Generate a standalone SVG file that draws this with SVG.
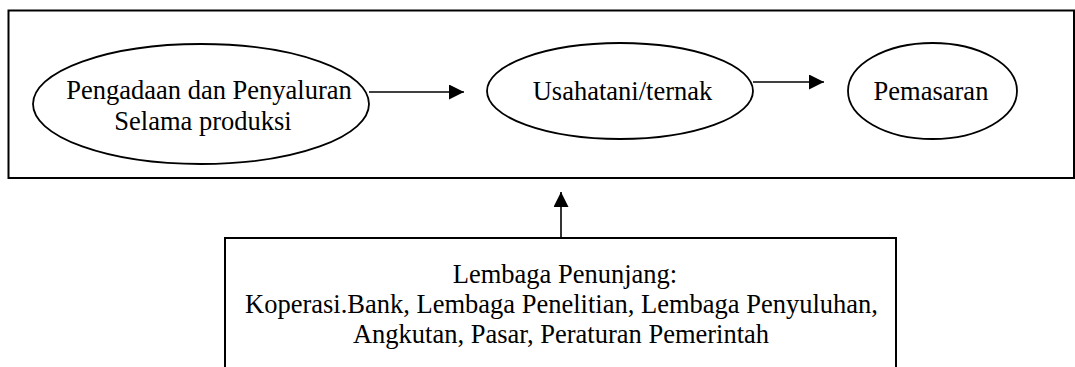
<svg xmlns="http://www.w3.org/2000/svg" width="1075" height="367" viewBox="0 0 1075 367">
<style>
.box{fill:#fff;stroke:#000;stroke-width:2}
.ell{fill:#fff;stroke:#000;stroke-width:1.8}
.lbl{font-family:"Liberation Serif","Times New Roman",serif;font-size:26.5px;fill:#000;text-anchor:middle}
.conn{stroke:#000;stroke-width:1.6;fill:none;marker-end:url(#ah)}
</style>
<defs>
<marker id="ah" markerUnits="userSpaceOnUse" markerWidth="15" markerHeight="15" refX="15" refY="7.5" orient="auto">
<path d="M0,0 L15,7.5 L0,15 z" fill="#000"/>
</marker>
</defs>
<rect width="1075" height="367" fill="#fff"/>
<g id="frame">
<rect class="box" x="8.5" y="10.5" width="1065.5" height="167.5"/>
</g>
<g id="node-pengadaan">
<ellipse class="ell" cx="201" cy="104" rx="168" ry="60"/>
<text class="lbl" x="209" y="99">Pengadaan dan Penyaluran</text>
<text class="lbl" x="203" y="129.5">Selama produksi</text>
</g>
<g id="node-usahatani">
<ellipse class="ell" cx="620" cy="91" rx="133" ry="48"/>
<text class="lbl" x="622.5" y="100">Usahatani/ternak</text>
</g>
<g id="node-pemasaran">
<ellipse class="ell" cx="932.5" cy="91" rx="84.5" ry="48"/>
<text class="lbl" x="931" y="100">Pemasaran</text>
</g>
<g id="node-lembaga">
<rect class="box" x="225" y="238" width="671" height="150"/>
<text class="lbl" x="565" y="282.5">Lembaga Penunjang:</text>
<text class="lbl" x="561.5" y="312.5">Koperasi.Bank, Lembaga Penelitian, Lembaga Penyuluhan,</text>
<text class="lbl" x="561" y="343">Angkutan, Pasar, Peraturan Pemerintah</text>
</g>
<g id="connectors">
<line class="conn" x1="369" y1="92" x2="464" y2="92"/>
<line class="conn" x1="753" y1="82" x2="824" y2="82"/>
<line class="conn" x1="561" y1="238" x2="561" y2="192"/>
</g>
</svg>
